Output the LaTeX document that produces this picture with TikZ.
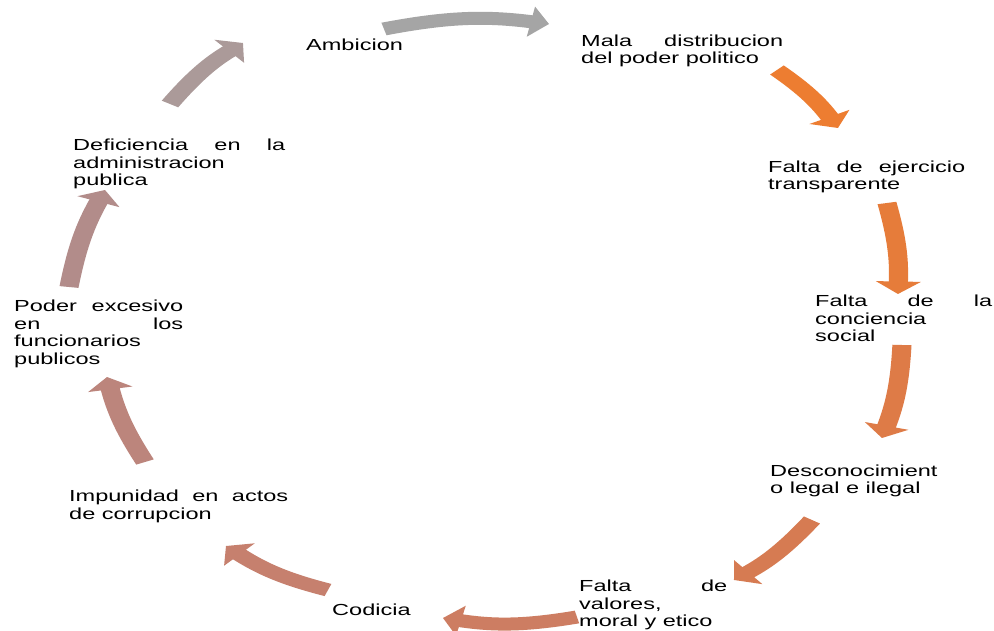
\documentclass[tikz,border=0pt]{standalone}
\usepackage{fontspec}
\setmainfont{Liberation Sans}[FakeStretch=1.47]
\usetikzlibrary{arrows.meta}
\definecolor{ca}{HTML}{A5A5A5}
\definecolor{cb}{HTML}{ED7D31}
\definecolor{cc}{HTML}{E67C3A}
\definecolor{cd}{HTML}{DE7B47}
\definecolor{ce}{HTML}{D67B52}
\definecolor{cf}{HTML}{CD7D62}
\definecolor{cg}{HTML}{C6806E}
\definecolor{ch}{HTML}{BC857C}
\definecolor{ci}{HTML}{B28C8A}
\definecolor{cj}{HTML}{AB9A99}
\newcommand{\jline}[2]{\makebox[#1pt][s]{#2}}
\begin{document}
\begin{tikzpicture}[x=1pt,y=-1pt,
  lbl/.style={font=\fontsize{16}{17.5}\selectfont, inner sep=0pt, align=left, anchor=north west, text=black},
  cyc/.style={line width=13pt, -{Triangle[length=12.5pt,width=30pt]}, bend left=9}]
\useasboundingbox[fill=white] (0,0) rectangle (994,631);
\node[lbl] (t1) at (306,38.4) {Ambicion};
\node[lbl] (t2) at (581,34.4) {\jline{202}{Mala distribucion}\\del poder politico};
\node[lbl] (t3) at (768,160.4) {\jline{197}{Falta de ejercicio}\\transparente};
\node[lbl] (t4) at (815,295) {\jline{177}{Falta de la}\\conciencia\\social};
\node[lbl] (t5) at (770,464.4) {Desconocimient\\o legal e ilegal};
\node[lbl] (t6) at (579,580) {\jline{148}{Falta de}\\valores,\\moral y etico};
\node[lbl] (t7) at (332,603.4) {Codicia};
\node[lbl] (t8) at (69,490) {\jline{219}{Impunidad en actos}\\de corrupcion};
\node[lbl] (t9) at (14,300) {\jline{169}{Poder excesivo}\\\jline{169}{en los}\\funcionarios\\publicos};
\node[lbl] (t10) at (73,139) {\jline{212}{Deficiencia en la}\\administracion\\publica};
\begin{scope}[transform canvas={xscale=1.47}, xscale=1/1.47]
  \coordinate (s1) at (384,29);  \coordinate (e1) at (549,24);
  \coordinate (s2) at (777,70);  \coordinate (e2) at (838,128);
  \coordinate (s3) at (887,203); \coordinate (e3) at (898,294);
  \coordinate (s4) at (902,345); \coordinate (e4) at (882,438);
  \coordinate (s5) at (812,520); \coordinate (e5) at (734,580);
  \coordinate (s6) at (577,617); \coordinate (e6) at (443,618);
  \coordinate (s7) at (328,590); \coordinate (e7) at (226,546);
  \coordinate (s8) at (145,462); \coordinate (e8) at (107,377);
  \coordinate (s9) at (69,287);  \coordinate (e9) at (105,190);
  \coordinate (s10) at (170,104); \coordinate (e10) at (243,43);
  \draw[cyc, draw=ca] (s1) to (e1);
  \draw[cyc, draw=cb] (s2) to (e2);
  \draw[cyc, draw=cc] (s3) to (e3);
  \draw[cyc, draw=cd] (s4) to (e4);
  \draw[cyc, draw=ce] (s5) to (e5);
  \draw[cyc, draw=cf] (s6) to (e6);
  \draw[cyc, draw=cg] (s7) to (e7);
  \draw[cyc, draw=ch] (s8) to (e8);
  \draw[cyc, draw=ci] (s9) to (e9);
  \draw[cyc, draw=cj] (s10) to (e10);
\end{scope}
\end{tikzpicture}
\end{document}
